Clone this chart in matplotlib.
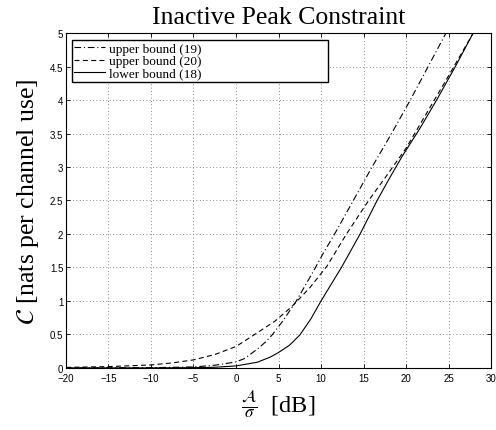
import matplotlib
matplotlib.use("Agg")
import matplotlib.pyplot as plt
from matplotlib.ticker import FuncFormatter

# values
x_ub19 = [-20, -15, -10, -5, -2.5, 0, 1, 2.5, 3.5, 4.3, 5.5, 7.1, 8.0, 9.0, 10.3, 11.6, 13.8, 16.0, 18.3, 20.5, 22.6, 24.7]
y_ub19 = [0.0, 0.001, 0.004, 0.015, 0.04, 0.09, 0.14, 0.28, 0.39, 0.5, 0.7, 1.0, 1.2, 1.42, 1.72, 2.0, 2.5, 3.0, 3.5, 4.0, 4.5, 5.0]

x_ub20 = [-20, -15, -10, -7.5, -5, -2.5, 0, 2.2, 4.6, 6.6, 8.7, 10.7, 13.0, 15.6, 17.6, 20.0, 22.5, 25.0, 27.9]
y_ub20 = [0.008, 0.02, 0.045, 0.075, 0.12, 0.2, 0.32, 0.5, 0.7, 0.92, 1.2, 1.52, 2.0, 2.5, 2.85, 3.28, 3.82, 4.36, 5.0]

x_lb18 = [-20, -10, -5, -2.5, 0, 2.5, 4, 5, 6.3, 7.5, 8.8, 10, 11.2, 12.4, 14.6, 16.6, 18.0, 19.5, 21.6, 23.6, 25.8, 27.9]
y_lb18 = [0.0, 0.001, 0.004, 0.01, 0.03, 0.085, 0.16, 0.23, 0.34, 0.49, 0.73, 1.0, 1.25, 1.5, 2.0, 2.5, 2.82, 3.15, 3.57, 4.0, 4.5, 5.0]

xticks = list(range(-20, 31, 5))
yticks = [0, 0.5, 1, 1.5, 2, 2.5, 3, 3.5, 4, 4.5, 5]

plt.rcParams['mathtext.fontset'] = 'stix'

fig = plt.figure(figsize=(4.96, 4.31), dpi=100)
ax = fig.add_axes([0.133, 0.144, 0.857, 0.777])

ax.plot(x_ub19, y_ub19, color='black', lw=0.8, linestyle=(0, (6, 2.5, 1, 2.5)), label='upper bound (19)')
ax.plot(x_ub20, y_ub20, color='black', lw=0.8, linestyle=(0, (4.5, 3)), label='upper bound (20)')
ax.plot(x_lb18, y_lb18, color='black', lw=0.8, linestyle='-', label='lower bound (18)')

ax.set_xlim(-20, 30)
ax.set_ylim(0, 5)
ax.set_xticks(xticks)
ax.set_yticks(yticks)
ax.xaxis.set_major_formatter(FuncFormatter(lambda v, p: ('%g' % v).replace('-', '\u2212')))
ax.yaxis.set_major_formatter(FuncFormatter(lambda v, p: '%g' % v))
ax.tick_params(direction='in', top=True, right=True, labelsize=7, length=3, width=0.6)
ax.tick_params(axis='x', pad=3.5)
ax.tick_params(axis='y', pad=2)
for lbl in ax.get_xticklabels() + ax.get_yticklabels():
    lbl.set_family('Liberation Sans')

ax.grid(True, linestyle=(0, (1, 3)), color='#666666', linewidth=0.6)
for s in ax.spines.values():
    s.set_linewidth(0.8)

ax.set_title('Inactive Peak Constraint', family='Liberation Serif', fontsize=18.5, pad=7)
ax.set_xlabel(r'$\frac{\mathcal{A}}{\sigma}$  [dB]', family='Liberation Serif', fontsize=17.5, labelpad=3)
ax.set_ylabel(r'$\mathcal{C}$ [nats per channel use]', family='Liberation Serif', fontsize=18.5, labelpad=6)

leg = ax.legend(loc='upper left', bbox_to_anchor=(0.0134, 0.861, 0.603, 0.118), mode='expand',
                prop={'family': 'Liberation Serif', 'size': 9.5}, frameon=True, fancybox=False,
                handlelength=2.3, handletextpad=0.3, borderaxespad=0, borderpad=0.2, labelspacing=0.0)
leg.get_frame().set_edgecolor('black')
leg.get_frame().set_linewidth(1.0)
leg.get_frame().set_alpha(1)

fig.savefig('out.png', dpi=100)
